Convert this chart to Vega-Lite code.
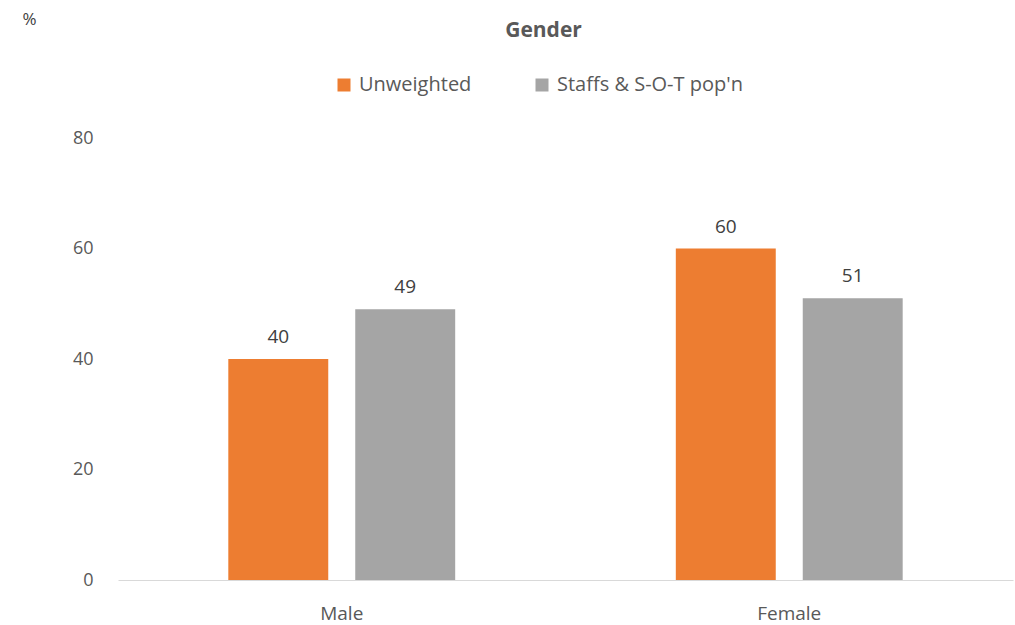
{
  "$schema": "https://vega.github.io/schema/vega-lite/v6.json",
  "autosize": "none",
  "width": 895,
  "height": 442,
  "padding": {"left": 118, "top": 138, "right": 2, "bottom": 45},
  "background": "white",
  "config": {"view": {"stroke": null}, "font": "Open Sans"},
  "title": {"text": "Gender", "fontSize": 21, "fontWeight": "bold", "color": "#595959", "font": "Open Sans", "frame": "group", "anchor": "middle", "dx": -22, "offset": -31},
  "data": {"values": [
    {"gender": "Male", "series": "Unweighted", "value": 40},
    {"gender": "Male", "series": "Staffs & S-O-T pop'n", "value": 49},
    {"gender": "Female", "series": "Unweighted", "value": 60},
    {"gender": "Female", "series": "Staffs & S-O-T pop'n", "value": 51}
  ]},
  "encoding": {
    "x": {"field": "gender", "type": "nominal", "sort": ["Male", "Female"], "scale": {"paddingInner": 0.493, "paddingOuter": 0.2465},
      "axis": {"title": null, "labelAngle": 0, "ticks": false, "domainColor": "#D9D9D9", "domainWidth": 1, "labelColor": "#595959", "labelFontSize": 19, "labelPadding": 24, "labelFont": "Open Sans"}},
    "xOffset": {"field": "series", "type": "nominal", "sort": ["Unweighted", "Staffs & S-O-T pop'n"], "scale": {"paddingInner": 0.2126, "paddingOuter": 0}},
    "y": {"field": "value", "type": "quantitative", "scale": {"domain": [0, 80]},
      "axis": {"title": "%", "titleAngle": 0, "titleX": -96, "titleY": -119, "titleFontWeight": "normal", "titleFontSize": 17, "titleColor": "#404040", "titleAlign": "left", "titleBaseline": "middle", "values": [0, 20, 40, 60, 80], "grid": false, "domain": false, "ticks": false, "labelColor": "#595959", "labelFontSize": 18, "labelPadding": 25, "labelFont": "Open Sans"}},
    "color": {"field": "series", "type": "nominal", "sort": ["Unweighted", "Staffs & S-O-T pop'n"],
      "scale": {"domain": ["Unweighted", "Staffs & S-O-T pop'n"], "range": ["#ED7D31", "#A5A5A5"]},
      "legend": {"title": null, "orient": "none", "direction": "horizontal", "legendX": 216, "legendY": -63, "symbolType": "square", "symbolSize": 169, "symbolStrokeWidth": 0, "labelFontSize": 20, "labelLimit": 0, "labelColor": "#595959", "labelFont": "Open Sans", "columnPadding": 60, "labelOffset": 5}}
  },
  "layer": [
    {"mark": {"type": "bar"}},
    {"mark": {"type": "text", "baseline": "alphabetic", "dy": -16, "fontSize": 19, "font": "Open Sans"}, "encoding": {"text": {"field": "value", "type": "quantitative"}, "color": {"value": "#404040"}}}
  ]
}
